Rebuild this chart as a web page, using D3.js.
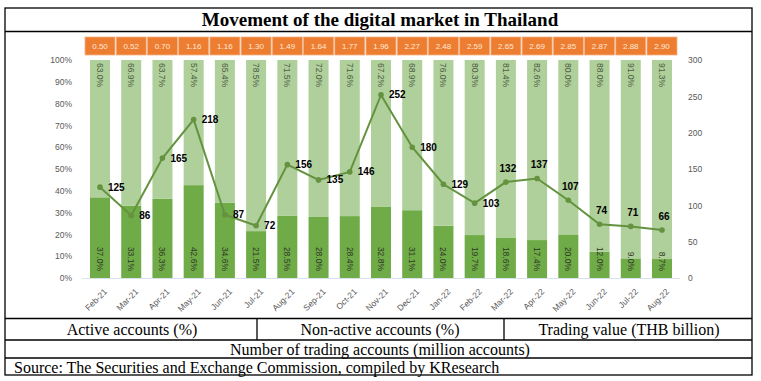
<!DOCTYPE html>
<html>
<head>
<meta charset="utf-8">
<script src="https://cdn.jsdelivr.net/npm/d3@7"></script>
<style>
  html, body { margin: 0; padding: 0; background: #fff; }
  svg { display: block; }
</style>
</head>
<body>
<svg id="chart" width="761" height="381"></svg>
<script>
const categories = ["Feb-21","Mar-21","Apr-21","May-21","Jun-21","Jul-21","Aug-21","Sep-21","Oct-21","Nov-21","Dec-21","Jan-22","Feb-22","Mar-22","Apr-22","May-22","Jun-22","Jul-22","Aug-22"];
const activePct = [37.0,33.1,36.3,42.6,34.6,21.5,28.5,28.0,28.4,32.8,31.1,24.0,19.7,18.6,17.4,20.0,12.0,9.0,8.7];
const nonActivePct = [63.0,66.9,63.7,57.4,65.4,78.5,71.5,72.0,71.6,67.2,68.9,76.0,80.3,81.4,82.6,80.0,88.0,91.0,91.3];
const tradingValue = [125,86,165,218,87,72,156,135,146,252,180,129,103,132,137,107,74,71,66];
const accounts = [0.50,0.52,0.70,1.16,1.16,1.30,1.49,1.64,1.77,1.96,2.27,2.48,2.59,2.65,2.69,2.85,2.87,2.88,2.90];
const leftTicks = [0,10,20,30,40,50,60,70,80,90,100];
const rightTicks = [0,50,100,150,200,250,300];
const titleText = "Movement of the digital market in Thailand";
const legendLabels = ["Active accounts (%)","Non-active accounts (%)","Trading value (THB billion)"];
const accountsLabel = "Number of trading accounts (million accounts)";
const sourceText = "Source: The Securities and Exchange Commission, compiled by KResearch";

const svg = d3.select("#chart");
const serif = "'Liberation Serif','Times New Roman',serif";
const sans = "'Liberation Sans',Arial,sans-serif";

const colActive = "#6fab47";
const colNon = "#afd09a";
const colLine = "#64923f";
const colOrange = "#ed7d31";

const x = d3.scalePoint().domain(categories).range([100, 662]);
const y = d3.scaleLinear().domain([0, 100]).range([278, 60]);
const y2 = d3.scaleLinear().domain([0, 300]).range([278, 60]);
const barW = 20;

// Frame
const L = 5, R = 752, T = 8, B = 375;
const frame = svg.append("g").attr("stroke", "#000").attr("stroke-width", 1.3).attr("fill", "none");
frame.append("rect").attr("x", L).attr("y", T).attr("width", R - L).attr("height", B - T);
[31.5, 318.5, 340, 358].forEach(yy => frame.append("line").attr("x1", L).attr("x2", R).attr("y1", yy).attr("y2", yy));
[257, 504].forEach(xx => frame.append("line").attr("x1", xx).attr("x2", xx).attr("y1", 318.5).attr("y2", 340));

// Title
svg.append("text").attr("x", 380).attr("y", 26).attr("text-anchor", "middle")
  .attr("font-family", serif).attr("font-weight", "bold").attr("font-size", 19).text(titleText);

// Table text
const legCenters = [132, 380, 629];
legendLabels.forEach((t, i) => svg.append("text").attr("x", legCenters[i]).attr("y", 334.5)
  .attr("text-anchor", "middle").attr("font-family", serif).attr("font-size", 16).text(t));
svg.append("text").attr("x", 380).attr("y", 354.5).attr("text-anchor", "middle")
  .attr("font-family", serif).attr("font-size", 16).text(accountsLabel);
svg.append("text").attr("x", 14).attr("y", 372.5)
  .attr("font-family", serif).attr("font-size", 16).text(sourceText);

// Baseline
svg.append("line").attr("x1", 82).attr("x2", 680).attr("y1", y(0) + 0.5).attr("y2", y(0) + 0.5)
  .attr("stroke", "#d9e2ea").attr("stroke-width", 1);

// Left axis
const gL = svg.append("g").attr("transform", "translate(72,0)")
  .call(d3.axisLeft(y).tickValues(leftTicks).tickFormat(d => d + "%").tickSize(0).tickPadding(0));
gL.select(".domain").remove();
gL.selectAll("text").attr("font-family", sans).attr("font-size", 8.5).attr("fill", "#595959");

// Right axis
const gR = svg.append("g").attr("transform", "translate(688,0)")
  .call(d3.axisRight(y2).tickValues(rightTicks).tickSize(0).tickPadding(0));
gR.select(".domain").remove();
gR.selectAll("text").attr("font-family", sans).attr("font-size", 8.5).attr("fill", "#595959");

// X labels
const gX = svg.append("g").attr("transform", "translate(0,283)")
  .call(d3.axisBottom(x).tickSize(0).tickPadding(0));
gX.select(".domain").remove();
gX.selectAll("text").attr("font-family", sans).attr("font-size", 8.5).attr("fill", "#595959")
  .attr("text-anchor", "end").attr("dy", "0.7em").attr("transform", "translate(3,5) rotate(-45)");

// Bars
const bars = svg.append("g");
bars.selectAll(".act").data(categories).join("rect")
  .attr("x", d => x(d) - barW / 2).attr("width", barW)
  .attr("y", (d, i) => y(activePct[i])).attr("height", (d, i) => y(0) - y(activePct[i]))
  .attr("fill", colActive);
bars.selectAll(".non").data(categories).join("rect").attr("class", "non")
  .attr("x", d => x(d) - barW / 2).attr("width", barW)
  .attr("y", (d, i) => y(activePct[i] + nonActivePct[i])).attr("height", (d, i) => y(activePct[i]) - y(activePct[i] + nonActivePct[i]))
  .attr("fill", colNon);

// Bar labels (rotated)
categories.forEach((c, i) => {
  const cx = x(c);
  svg.append("text").attr("transform", `translate(${cx - 3},${y(0) - 7}) rotate(90)`)
    .attr("text-anchor", "end").attr("font-family", sans).attr("font-size", 8.5).attr("fill", "#2f3a28")
    .text(activePct[i].toFixed(1) + "%");
  svg.append("text").attr("transform", `translate(${cx - 3},${y(100) + 3}) rotate(90)`)
    .attr("text-anchor", "start").attr("font-family", sans).attr("font-size", 8.5).attr("fill", "#4d5a44")
    .text(nonActivePct[i].toFixed(1) + "%");
});

// Line
const line = d3.line().x((d, i) => x(categories[i])).y(d => y2(d));
svg.append("path").datum(tradingValue).attr("d", line).attr("fill", "none")
  .attr("stroke", colLine).attr("stroke-width", 2);
svg.selectAll(".pt").data(tradingValue).join("circle")
  .attr("cx", (d, i) => x(categories[i])).attr("cy", d => y2(d)).attr("r", 2.8).attr("fill", colLine);
svg.selectAll(".vl").data(tradingValue).join("text")
  .attr("x", (d, i) => i < 13 ? x(categories[i]) + 8 : x(categories[i]) + 2)
  .attr("y", (d, i) => i < 13 ? y2(d) + 3.5 : y2(d) - 10)
  .attr("text-anchor", (d, i) => i < 13 ? "start" : "middle")
  .attr("font-family", sans).attr("font-weight", "bold").attr("font-size", 10).attr("fill", "#000")
  .text(d => d);

// Orange boxes
const boxW = 30;
svg.selectAll(".box").data(accounts).join("rect")
  .attr("x", (d, i) => x(categories[i]) - boxW / 2).attr("y", 37).attr("width", boxW).attr("height", 18)
  .attr("fill", colOrange).attr("stroke", "#f4b183").attr("stroke-width", 0.8);
svg.selectAll(".boxt").data(accounts).join("text")
  .attr("x", (d, i) => x(categories[i])).attr("y", 49).attr("text-anchor", "middle")
  .attr("font-family", sans).attr("font-size", 8).attr("fill", "#fde9d9")
  .text(d => d.toFixed(2));
</script>
</body>
</html>
